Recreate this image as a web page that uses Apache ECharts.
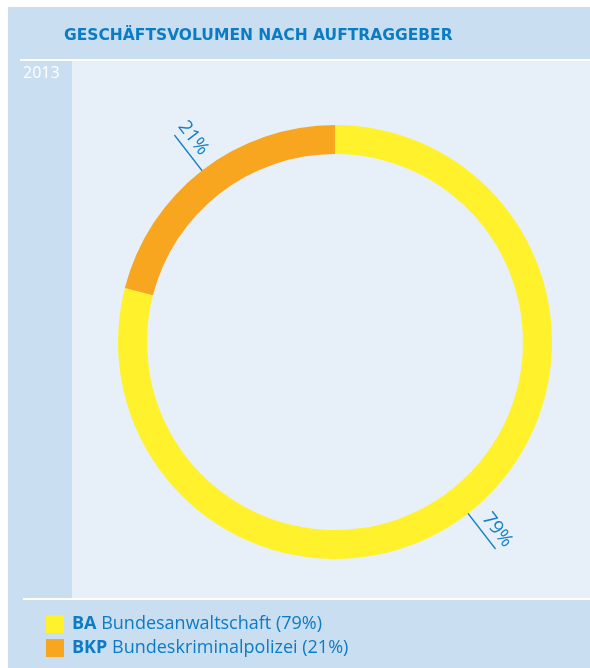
<!DOCTYPE html>
<html>
<head>
<meta charset="utf-8">
<script src="https://cdn.jsdelivr.net/npm/echarts@6/dist/echarts.min.js"></script>
<style>
  html, body { margin: 0; padding: 0; background: #fff; }
  #chart { width: 590px; height: 668px; }
</style>
</head>
<body>
<div id="chart"></div>
<script>
// Kürzel, Namen und Anteile der Auftraggeber
const codes = ['BA', 'BKP']
const names = ['Bundesanwaltschaft', 'Bundeskriminalpolizei']
const shares = [79, 21]
const year = '2013'
const heading = 'GESCHÄFTSVOLUMEN NACH AUFTRAGGEBER'

const blue = '#0b7cc3'
const font = 'Open Sans'

const pieData = codes.map((c, i) => ({ name: c, value: shares[i] }))

const myChart = echarts.init(document.getElementById('chart'))

const option = {
  animation: false,
  color: ['#fff22c', '#f8a51f'],
  graphic: [
    // Hintergrund
    { type: 'rect', silent: true, z: -10, shape: { x: 8, y: 7, width: 582, height: 661 }, style: { fill: '#c9def1' } },
    { type: 'rect', silent: true, z: -9, shape: { x: 72, y: 61, width: 518, height: 537 }, style: { fill: '#e7f0f8' } },
    { type: 'rect', silent: true, z: -9, shape: { x: 20, y: 59, width: 570, height: 2 }, style: { fill: '#ffffff' } },
    { type: 'rect', silent: true, z: -9, shape: { x: 23, y: 598, width: 567, height: 2 }, style: { fill: '#ffffff' } }
  ],
  title: [
    {
      text: heading,
      left: 64,
      top: 28,
      padding: 0,
      textStyle: { color: blue, fontSize: 15.5, fontWeight: 'bold', fontFamily: 'DejaVu Sans' }
    },
    {
      text: year,
      left: 23,
      top: 65,
      padding: 0,
      textStyle: { color: '#ffffff', fontSize: 16, fontWeight: 'normal', fontFamily: font }
    }
  ],
  legend: {
    orient: 'vertical',
    left: 46,
    top: 615,
    padding: 0,
    itemWidth: 18,
    itemHeight: 18,
    itemGap: 6,
    icon: 'rect',
    data: codes,
    formatter: name => {
      const i = codes.indexOf(name)
      return '{b|' + name + '}{t| ' + names[i] + ' (' + shares[i] + '%)}'
    },
    textStyle: {
      color: blue,
      fontSize: 18,
      fontFamily: font,
      rich: {
        b: { fontWeight: 'bold', fontSize: 18, color: blue, fontFamily: font, padding: [0, 0, 0, 3] },
        t: { fontSize: 18, color: blue, fontFamily: font }
      }
    }
  },
  series: [
    {
      // Ring
      name: 'Auftraggeber',
      type: 'pie',
      center: [335, 342],
      radius: [188, 217],
      startAngle: 90,
      clockwise: true,
      silent: true,
      avoidLabelOverlap: false,
      label: { show: false },
      labelLine: { show: false },
      data: pieData
    },
    {
      // Hinweislinien
      type: 'pie',
      center: [335, 342],
      radius: [0, 206],
      startAngle: 90,
      silent: true,
      avoidLabelOverlap: false,
      itemStyle: { color: 'transparent' },
      label: { show: true, position: 'outside', formatter: () => '' },
      labelLine: { show: true, length: 56, length2: 0, lineStyle: { color: '#1580c4', width: 1.3 } },
      data: pieData
    },
    {
      // Prozentangaben, neben der Linie
      type: 'pie',
      center: [335, 342],
      radius: [225, 265],
      startAngle: 90,
      silent: true,
      avoidLabelOverlap: false,
      itemStyle: { color: 'transparent' },
      label: {
        show: true,
        position: 'inside',
        rotate: 'radial',
        formatter: '{c}%\n ',
        color: '#1580c4',
        fontSize: 19,
        lineHeight: 26,
        fontFamily: font
      },
      labelLine: { show: false },
      data: pieData
    }
  ]
}

myChart.setOption(option)
</script>
</body>
</html>
